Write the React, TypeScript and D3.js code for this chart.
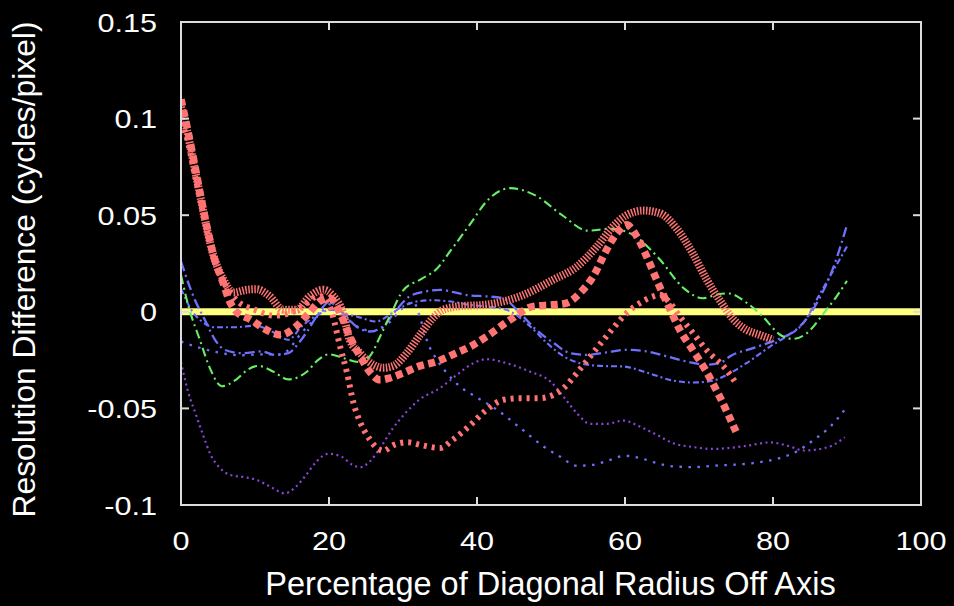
import React from 'react';
import * as d3 from 'd3';

type Pt = [number, number];

const xTicks = [0, 20, 40, 60, 80, 100];
const xTickLabels = ['0', '20', '40', '60', '80', '100'];
const yTicks = [-0.1, -0.05, 0, 0.05, 0.1, 0.15];
const yTickLabels = ['-0.1', '-0.05', '0', '0.05', '0.1', '0.15'];

const xLabel = 'Percentage of Diagonal Radius Off Axis';
const yLabel = 'Resolution Difference (cycles/pixel)';

const zeroLine: Pt[] = [[0, 0], [100, 0]];

const greenDashDot: Pt[] = [
  [0, 0.019], [1, 0.003], [2.5, -0.014], [4, -0.03], [5.5, -0.0385], [7.5, -0.035], [9, -0.03],
  [10.5, -0.028], [12.5, -0.031], [14.5, -0.035], [17, -0.031], [18.5, -0.025], [20, -0.022],
  [22, -0.024], [24, -0.026], [25.5, -0.023], [27, -0.012], [28.5, 0.0], [30, 0.011], [32.5, 0.017],
  [34.5, 0.022], [36.5, 0.032], [39, 0.045], [41.5, 0.058], [44.5, 0.064], [48, 0.06], [51.5, 0.05],
  [55, 0.042], [58, 0.043], [61, 0.04], [64.5, 0.028], [68, 0.012], [70.5, 0.007], [72.5, 0.009],
  [74, 0.0095], [76.5, 0.0045], [78.5, -0.002], [81, -0.012], [82.7, -0.014], [84.6, -0.011],
  [86.8, -0.001], [88.6, 0.008], [90, 0.016],
];

const purpleDotted: Pt[] = [
  [0, -0.026], [1, -0.042], [2, -0.053], [3, -0.064], [4, -0.074], [5.3, -0.081], [6.6, -0.0844],
  [8.6, -0.0856], [10.2, -0.087], [12.3, -0.091], [14, -0.094], [15.4, -0.091], [16.8, -0.085],
  [18.3, -0.0775], [19.9, -0.0735], [21.7, -0.075], [23.1, -0.079], [24.2, -0.0805], [25.5, -0.0775],
  [27, -0.07], [28.5, -0.061], [30.3, -0.0525], [32.2, -0.0455], [35, -0.0395], [37.3, -0.0326],
  [39.5, -0.0266], [41.3, -0.0245], [44, -0.0266], [47.2, -0.031], [49.9, -0.036], [51.7, -0.044],
  [53.5, -0.0525], [55.3, -0.058], [57.5, -0.058], [59.8, -0.0563], [62, -0.0594], [64.3, -0.0637],
  [66.5, -0.068], [69.2, -0.07], [71.9, -0.071], [74, -0.0705], [76.4, -0.0694], [79.6, -0.0676],
  [82.3, -0.0697], [84.1, -0.0718], [86.4, -0.071], [88.1, -0.069], [89.7, -0.065],
];

const blueDashDotA: Pt[] = [
  [0, 0.026], [1.9, 0.006], [3.2, -0.004], [4.6, -0.0145], [5.9, -0.0197], [8.2, -0.0214],
  [10.9, -0.0205], [12.7, -0.0223], [14.5, -0.0214], [15.9, -0.0162], [17.2, -0.0093],
  [18.6, -0.0007], [20, 0.005], [21.9, -0.0007], [23.7, -0.0076], [25.5, -0.0102], [27.3, -0.0076],
  [29.1, 0.001], [30.9, 0.008], [33, 0.0105], [35, 0.0114], [37, 0.01], [39, 0.0085], [41.3, 0.008],
  [43.5, 0.007], [45.8, -0.0007], [48, -0.0093], [50.3, -0.016], [52.6, -0.0214], [54.8, -0.0223],
  [57.5, -0.021], [60.2, -0.0197], [62.9, -0.0205], [65.6, -0.023], [68.3, -0.0257], [71, -0.0274],
  [73, -0.0262], [74.2, -0.023], [77.3, -0.0188], [80.5, -0.0145], [82.8, -0.0102], [84.6, -0.0033],
  [86.4, 0.0079], [88.2, 0.0234], [90, 0.045],
];

const blueDashDotB: Pt[] = [
  [0, 0.012], [1.4, 0.001], [2.8, -0.005], [4.6, -0.008], [7.3, -0.008], [10, -0.0072],
  [12.7, -0.011], [14.5, -0.0145], [16.3, -0.0076], [18.1, -0.0024], [20.4, 0.001], [22, -0.001],
  [23.7, -0.0024], [26.4, -0.005], [28, -0.002], [30, 0.0028], [31.8, 0.0053], [34, 0.006],
  [37, 0.005], [39, 0.0036], [41.3, 0.0027], [44, 0.001], [47.2, -0.0076], [49.4, -0.016],
  [51.7, -0.023], [53.9, -0.0266], [56.6, -0.028], [59.8, -0.0283], [62.9, -0.0314], [66.5, -0.0356],
  [69.2, -0.0366], [71.9, -0.0356], [73.3, -0.0335], [76.4, -0.0266], [79.6, -0.018], [81.8, -0.0128],
  [84.1, -0.0059], [86.4, 0.0097], [88.2, 0.0217], [90, 0.0338],
];

const blueDotted: Pt[] = [
  [0, -0.0154], [2, -0.018], [5, -0.021], [8, -0.0225], [11, -0.022], [13.5, -0.022], [16.5, -0.01],
  [18.8, -0.001], [20.2, 0.004], [22, -0.002], [24, -0.008], [26, -0.01], [28, -0.006], [30, 0.002],
  [31.4, 0.005], [32.3, -0.003], [33.2, -0.0145], [34.6, -0.025], [36, -0.032], [37.7, -0.0387],
  [39.4, -0.043], [42.7, -0.0507], [45.8, -0.06], [49, -0.0697], [51.2, -0.0749], [53.5, -0.0797],
  [55.7, -0.0792], [58, -0.0766], [60, -0.0745], [62, -0.0757], [64.3, -0.0783], [66.5, -0.08],
  [69.2, -0.0804], [71.9, -0.0797], [77.3, -0.0783], [80.9, -0.0757], [83.2, -0.0723], [85.5, -0.0663],
  [87.3, -0.061], [88.8, -0.055], [90, -0.049],
];

const redHatched: Pt[] = [
  [0, 0.106], [0.8, 0.094], [1.7, 0.077], [2.6, 0.06], [3.5, 0.043], [4.4, 0.029], [5.7, 0.017],
  [7.1, 0.01], [8.9, 0.0114], [10.2, 0.0117], [12, 0.008], [13.8, 0.001], [15.6, 0.001], [17.4, 0.008],
  [19.2, 0.0114], [20.6, 0.008], [21.9, -0.0007], [22.8, -0.0145], [24.2, -0.0214], [26, -0.0274],
  [27.3, -0.029], [28.7, -0.028], [30.5, -0.0214], [32.3, -0.012], [34.1, -0.003], [35.4, 0.001],
  [37.5, 0.0028], [41, 0.0036], [45.8, 0.008], [50.3, 0.0166], [53.5, 0.0234], [56.2, 0.0338],
  [58.4, 0.0442], [60.2, 0.05], [62.5, 0.0524], [64.7, 0.051], [67, 0.043], [69.2, 0.03], [71, 0.017],
  [72.8, 0.006], [74.7, -0.0041], [76.4, -0.0093], [78.2, -0.0119], [80, -0.0145],
];

const redSquares: Pt[] = [
  [0, 0.11], [0.8, 0.096], [1.7, 0.079], [2.6, 0.061], [3.5, 0.044], [4.4, 0.029], [5.7, 0.015],
  [6.5, 0.006], [7.5, 0.0], [9.4, -0.004], [11.6, -0.0095], [13.5, -0.012], [15.3, -0.0084],
  [17.1, -0.0015], [18.9, 0.0058], [20.1, 0.007], [21.5, -0.0007], [22.8, -0.0128], [24.2, -0.023],
  [25.5, -0.031], [26.9, -0.0352], [28.2, -0.0343], [30, -0.0317], [32.3, -0.028], [34.6, -0.0257],
  [36.8, -0.022], [39.1, -0.018], [41.3, -0.0128], [44.5, -0.0041], [47.6, 0.0028], [50.3, 0.0036],
  [52.1, 0.0045], [53.9, 0.0097], [55.7, 0.0183], [57.5, 0.032], [58.9, 0.0407], [60.2, 0.045],
  [61.6, 0.039], [63, 0.028], [64.5, 0.0145], [66, 0.002], [67.5, -0.01], [69.2, -0.02], [71, -0.031],
  [72.8, -0.044], [75, -0.062],
];

const redDashed: Pt[] = [
  [0, 0.098], [0.8, 0.09], [1.7, 0.074], [2.6, 0.058], [3.5, 0.042], [4.4, 0.028], [5.7, 0.016],
  [7.5, 0.006], [10, 0.001], [12.5, -0.002], [14.5, -0.001], [16.5, 0.003], [18.5, 0.008], [19.5, 0.007],
  [20.5, -0.002], [21.5, -0.018], [22.4, -0.031], [23.3, -0.047], [24.2, -0.057], [25.5, -0.066],
  [26.5, -0.0705], [27.3, -0.072], [28.7, -0.069], [30.6, -0.0675], [32.5, -0.069], [35, -0.0705],
  [36.8, -0.066], [39, -0.059], [41.3, -0.0507], [43.6, -0.0455], [45.8, -0.0447], [48.5, -0.0447],
  [50.3, -0.043], [51.7, -0.0395], [53.5, -0.0317], [55.3, -0.0231], [57.1, -0.0145], [58.5, -0.008],
  [60.2, -0.0007], [62, 0.0045], [63.8, 0.008], [64.7, 0.0088], [66.1, 0.0045], [67.4, -0.0024],
  [69.2, -0.011], [71, -0.0197], [73.7, -0.03], [75, -0.037],
];

const W = 954;
const H = 606;
const plotLeft = 181;
const plotRight = 921;
const plotTop = 22;
const plotBottom = 505;

const FONT = "'Liberation Sans', Arial, Helvetica, sans-serif";

export default function App() {
  const x = d3.scaleLinear().domain([0, 100]).range([plotLeft, plotRight]);
  const y = d3.scaleLinear().domain([-0.1, 0.15]).range([plotBottom, plotTop]);
  const line = d3
    .line<Pt>()
    .x((d) => x(d[0]))
    .y((d) => y(d[1]))
    .curve(d3.curveMonotoneX);

  const series = [
    { data: zeroLine, color: '#ffff80', width: 7, dash: undefined as string | undefined },
    { data: purpleDotted, color: '#8a46dc', width: 2.2, dash: '2,3.5' },
    { data: blueDotted, color: '#7070ff', width: 2.3, dash: '2.5,6.5' },
    { data: blueDashDotB, color: '#7070ff', width: 2.1, dash: '6,3,2,3' },
    { data: blueDashDotA, color: '#7070ff', width: 2.3, dash: '10,4,2,4' },
    { data: greenDashDot, color: '#66f066', width: 2.1, dash: '9,4,2,4' },
    { data: redDashed, color: '#ff7373', width: 6, dash: '3,5' },
    { data: redHatched, color: '#ff7373', width: 8, dash: '1.5,1.5' },
    { data: redSquares, color: '#ff7373', width: 7.5, dash: '7,4.5' },
  ];

  const tickLen = 8;
  const axisColor = '#dcdcdc';

  return (
    <svg
      width={W}
      height={H}
      style={{ position: 'absolute', left: 0, top: 0, background: '#000', display: 'block' }}
    >
      <rect x={0} y={0} width={W} height={H} fill="#000" />
      <defs>
        <clipPath id="plotClip">
          <rect x={plotLeft} y={plotTop} width={plotRight - plotLeft} height={plotBottom - plotTop} />
        </clipPath>
      </defs>
      <g clipPath="url(#plotClip)">
        {series.map((s, i) => (
          <path
            key={i}
            d={line(s.data) || ''}
            fill="none"
            stroke={s.color}
            strokeWidth={s.width}
            strokeDasharray={s.dash}
            strokeLinecap="butt"
            strokeLinejoin="round"
          />
        ))}
      </g>
      <rect
        x={plotLeft}
        y={plotTop}
        width={plotRight - plotLeft}
        height={plotBottom - plotTop}
        fill="none"
        stroke={axisColor}
        strokeWidth={2}
      />
      {yTicks.map((t, i) => (
        <g key={'yt' + i}>
          <line x1={plotLeft} x2={plotLeft + tickLen} y1={y(t)} y2={y(t)} stroke={axisColor} strokeWidth={2} />
          <line x1={plotRight} x2={plotRight - tickLen} y1={y(t)} y2={y(t)} stroke={axisColor} strokeWidth={2} />
          <text
            transform={`translate(157,${y(t) + 9.5}) scale(1.2,1.03)`}
            textAnchor="end"
            fill="#fff"
            fontSize={25.5}
            fontFamily={FONT}
          >
            {yTickLabels[i]}
          </text>
        </g>
      ))}
      {xTicks.map((t, i) => (
        <g key={'xt' + i}>
          <line x1={x(t)} x2={x(t)} y1={plotBottom} y2={plotBottom - tickLen} stroke={axisColor} strokeWidth={2} />
          <line x1={x(t)} x2={x(t)} y1={plotTop} y2={plotTop + tickLen} stroke={axisColor} strokeWidth={2} />
          <text
            transform={`translate(${x(t)},550) scale(1.2,1.03)`}
            textAnchor="middle"
            fill="#fff"
            fontSize={25.5}
            fontFamily={FONT}
          >
            {xTickLabels[i]}
          </text>
        </g>
      ))}
      <text
        transform="translate(35,269.5) rotate(-90)"
        textAnchor="middle"
        fill="#fff"
        fontSize={31.8}
        fontFamily={FONT}
      >
        {yLabel}
      </text>
      <text x={550.5} y={595} textAnchor="middle" fill="#fff" fontSize={32.5} fontFamily={FONT}>
        {xLabel}
      </text>
    </svg>
  );
}
